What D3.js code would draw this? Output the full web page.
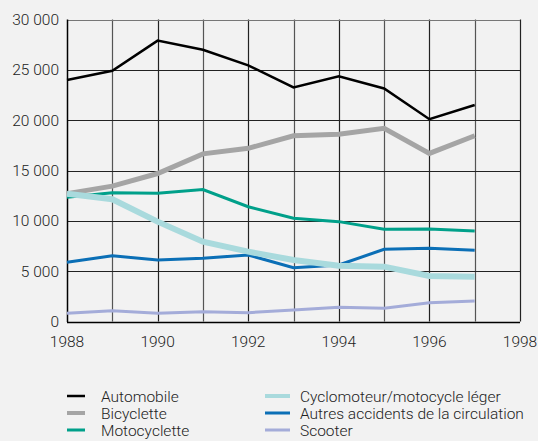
<!DOCTYPE html>
<html>
<head>
<meta charset="utf-8">
<script src="https://cdn.jsdelivr.net/npm/d3@7"></script>
<style>
  html, body { margin: 0; padding: 0; background: #f2f2f2; }
  svg { display: block; }
  text { font-family: "Roboto", "Liberation Sans", Arial, sans-serif; font-weight: 300; fill: #222; }
</style>
</head>
<body>
<svg id="chart" width="538" height="441"></svg>
<script>
// Years on the horizontal axis
const years = [1988, 1989, 1990, 1991, 1992, 1993, 1994, 1995, 1996, 1997];

// Series values (number per year)
const automobile   = [24000, 24900, 27900, 27000, 25450, 23250, 24350, 23150, 20100, 21500];
const bicyclette   = [12700, 13450, 14700, 16650, 17200, 18450, 18600, 19200, 16700, 18450];
const motocyclette = [12350, 12800, 12750, 13100, 11400, 10250, 9920, 9170, 9200, 9000];
const cyclomoteur  = [12700, 12150, 9920, 7930, 6940, 6110, 5550, 5450, 4520, 4450];
const autres       = [5880, 6540, 6110, 6280, 6610, 5350, 5620, 7170, 7280, 7080];
const scooter      = [815, 1070, 815, 980, 880, 1140, 1410, 1310, 1870, 2040];

// Tick labels
const xTicks = [1988, 1990, 1992, 1994, 1996, 1998];
const yTicks = [0, 5000, 10000, 15000, 20000, 25000, 30000];

// Series names, in legend order
const seriesNames = ["Automobile", "Bicyclette", "Motocyclette",
  "Cyclomoteur/motocycle léger", "Autres accidents de la circulation", "Scooter"];
const seriesValues = [automobile, bicyclette, motocyclette, cyclomoteur, autres, scooter];
const seriesColors = ["#000000", "#a5a5a5", "#00a08a", "#a9dadd", "#0b6fb6", "#a4acd9"];
const seriesWidths = [2.5, 5, 3, 6, 3, 3];

const svg = d3.select("#chart");
const margin = { left: 67, right: 18, top: 19.5, bottom: 119.5 };
const W = 538, H = 441;

const x = d3.scaleLinear().domain([1988, 1998]).range([margin.left, W - margin.right]);
const y = d3.scaleLinear().domain([0, 30000]).range([H - margin.bottom, margin.top]);

const fmt = v => d3.format(",")(v).replace(/,/g, " ");

// Grid lines
const grid = svg.append("g");
grid.selectAll("line.v").data(d3.range(1989, 1999)).join("line")
  .attr("x1", d => Math.round(x(d)) + 0.5).attr("x2", d => Math.round(x(d)) + 0.5)
  .attr("y1", y(30000)).attr("y2", y(0))
  .attr("stroke", d => d % 2 === 1 ? "#555" : "#222").attr("stroke-width", 1.2);
grid.selectAll("line.h").data(yTicks.slice(1)).join("line")
  .attr("x1", x(1988)).attr("x2", x(1998))
  .attr("y1", d => Math.round(y(d)) + 0.5).attr("y2", d => Math.round(y(d)) + 0.5)
  .attr("stroke", d => d === 30000 ? "#777" : "#222").attr("stroke-width", 1.2);

// Axes lines
svg.append("line")
  .attr("x1", Math.round(x(1988)) + 0.5).attr("x2", Math.round(x(1988)) + 0.5)
  .attr("y1", y(30000)).attr("y2", y(0) + 0.5)
  .attr("stroke", "#000").attr("stroke-width", 1.5);
svg.append("line")
  .attr("x1", x(1988)).attr("x2", x(1998))
  .attr("y1", Math.round(y(0)) + 0.5).attr("y2", Math.round(y(0)) + 0.5)
  .attr("stroke", "#000").attr("stroke-width", 1.5);

// Axis labels
svg.append("g").selectAll("text").data(yTicks).join("text")
  .attr("x", 59).attr("y", d => y(d) + 5.5)
  .attr("text-anchor", "end").attr("font-size", 15.5)
  .text(d => fmt(d));
svg.append("g").selectAll("text").data(xTicks).join("text")
  .attr("x", d => x(d)).attr("y", y(0) + 25)
  .attr("text-anchor", "middle").attr("font-size", 15.5)
  .text(d => d);

// Lines
const line = d3.line().x((d, i) => x(years[i])).y(d => y(d));
const order = [0, 1, 2, 4, 3, 5];
svg.append("g").selectAll("path").data(order).join("path")
  .attr("d", i => line(seriesValues[i]))
  .attr("fill", "none")
  .attr("stroke", i => seriesColors[i])
  .attr("stroke-width", i => seriesWidths[i])
  .attr("stroke-linejoin", "miter");

// Legend
const legend = svg.append("g");
const legendItems = seriesNames.map((n, i) => ({
  name: n, i,
  col: Math.floor(i / 3), row: i % 3
}));
const colX = [67, 265];
const colLen = [18, 25];
legend.selectAll("line").data(legendItems).join("line")
  .attr("x1", d => colX[d.col]).attr("x2", d => colX[d.col] + colLen[d.col])
  .attr("y1", d => 396 + d.row * 17).attr("y2", d => 396 + d.row * 17)
  .attr("stroke", d => seriesColors[d.i])
  .attr("stroke-width", d => Math.min(seriesWidths[d.i], 4));
legend.selectAll("text").data(legendItems).join("text")
  .attr("x", d => colX[d.col] + (d.col ? 35 : 34)).attr("y", d => 396 + d.row * 17 + 5.5)
  .attr("font-size", 15.5)
  .text(d => d.name);
</script>
</body>
</html>
